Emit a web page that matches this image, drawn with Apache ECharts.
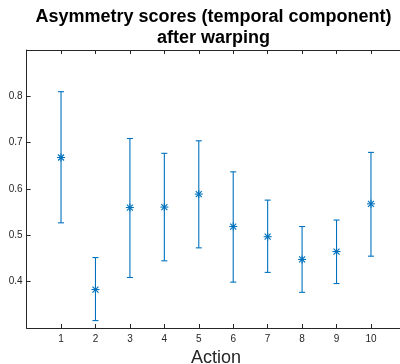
<!DOCTYPE html>
<html>
<head>
<meta charset="utf-8">
<script src="https://cdn.jsdelivr.net/npm/echarts@6/dist/echarts.min.js"></script>
<style>html,body{margin:0;padding:0;background:#fff;}#c{width:400px;height:364px;}</style>
</head>
<body>
<div id="c"></div>
<script>
var actions = [1, 2, 3, 4, 5, 6, 7, 8, 9, 10];
var means = [0.668, 0.383, 0.560, 0.561, 0.589, 0.519, 0.497, 0.448, 0.465, 0.568];
var lowers = [0.527, 0.316, 0.409, 0.445, 0.473, 0.399, 0.420, 0.377, 0.396, 0.455];
var uppers = [0.810, 0.452, 0.709, 0.677, 0.704, 0.637, 0.576, 0.519, 0.533, 0.679];
var titleText = 'Asymmetry scores (temporal component)\nafter warping';
var xName = 'Action';

var data = actions.map(function (a, i) { return [a, means[i], lowers[i], uppers[i]]; });
var BLUE = '#0072BD';
var AX = '#262626';
var FONT = '"Liberation Sans", Arial, Helvetica, sans-serif';

var chart = echarts.init(document.getElementById('c'), null, {renderer: 'canvas'});
chart.setOption({
  backgroundColor: '#fff',
  animation: false,
  title: {
    text: titleText,
    left: 208.5, top: 2, textAlign: 'center',
    textStyle: {fontFamily: FONT, fontSize: 18, fontWeight: 'bold', color: '#000', lineHeight: 20.5}
  },
  grid: {left: 26.6, top: 50, width: 378.8, bottom: 36, containLabel: false, outerBoundsMode: 'none'},
  xAxis: [{
    type: 'value', min: 0, max: 11, interval: 1, position: 'bottom',
    name: xName, nameLocation: 'middle', nameGap: 20,
    nameTextStyle: {fontFamily: FONT, fontSize: 18, color: AX, lineHeight: 18},
    axisLine: {show: true, lineStyle: {color: AX, width: 1}},
    axisTick: {show: true, inside: true, length: 4, lineStyle: {color: AX}},
    axisLabel: {showMinLabel: false, showMaxLabel: false, fontFamily: FONT, fontSize: 10, color: AX, margin: 6},
    splitLine: {show: false}
  }, {
    type: 'value', min: 0, max: 11, interval: 1, position: 'top',
    axisLine: {show: true, onZero: false, lineStyle: {color: AX, width: 1}},
    axisTick: {show: true, inside: true, length: 4, lineStyle: {color: AX}},
    axisLabel: {show: false},
    splitLine: {show: false}
  }],
  yAxis: [{
    type: 'value', min: 0.3, max: 0.9, interval: 0.1, position: 'left',
    axisLine: {show: true, onZero: false, lineStyle: {color: AX, width: 1}},
    axisTick: {show: true, inside: true, length: 4, lineStyle: {color: AX}},
    axisLabel: {showMinLabel: false, showMaxLabel: false, fontFamily: FONT, fontSize: 10, color: AX, margin: 4,
      formatter: function (v) { return (Math.round(v * 10) / 10).toString(); }},
    splitLine: {show: false}
  }],
  series: [{
    type: 'custom',
    xAxisIndex: 0, yAxisIndex: 0,
    data: data,
    clip: false,
    renderItem: function (params, api) {
      var x = api.value(0);
      var pm = api.coord([x, api.value(1)]);
      var pl = api.coord([x, api.value(2)]);
      var pu = api.coord([x, api.value(3)]);
      var cx = pm[0];
      var cap = 3, s = 4, d = 3;
      var st = {stroke: BLUE, lineWidth: 1.1, fill: null};
      function ln(x1, y1, x2, y2) {
        return {type: 'line', shape: {x1: x1, y1: y1, x2: x2, y2: y2}, style: st};
      }
      return {
        type: 'group',
        children: [
          ln(cx, pl[1], cx, pu[1]),
          ln(cx - cap, pl[1], cx + cap, pl[1]),
          ln(cx - cap, pu[1], cx + cap, pu[1]),
          ln(cx - s, pm[1], cx + s, pm[1]),
          ln(cx, pm[1] - s, cx, pm[1] + s),
          ln(cx - d, pm[1] - d, cx + d, pm[1] + d),
          ln(cx - d, pm[1] + d, cx + d, pm[1] - d)
        ]
      };
    }
  }]
});
</script>
</body>
</html>
